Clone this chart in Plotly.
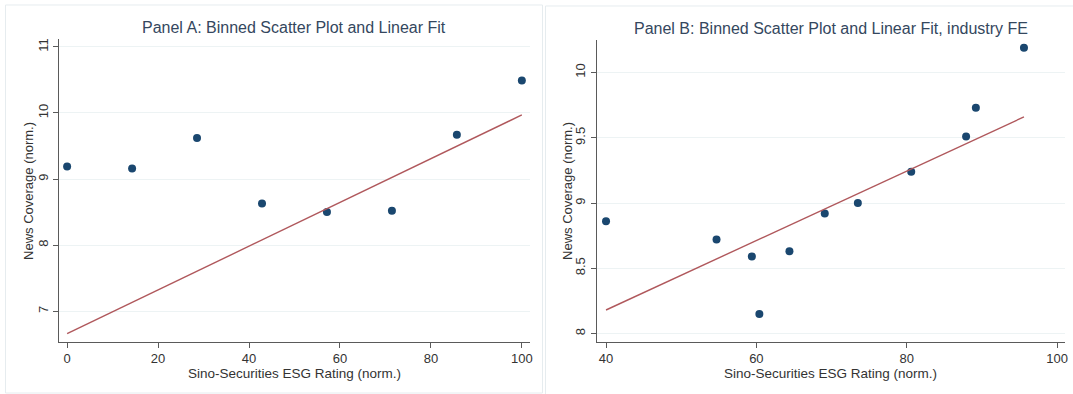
import plotly.graph_objects as go

# ---- data ----
a_x = [0, 14.29, 28.57, 42.86, 57.14, 71.43, 85.71, 100]
a_y = [9.19, 9.16, 9.62, 8.63, 8.50, 8.52, 9.67, 10.49]
a_fit_x = [0, 100]
a_fit_y = [6.66, 9.97]

b_x = [40, 54.7, 59.4, 60.4, 64.4, 69.1, 73.5, 80.6, 87.9, 89.2, 95.6]
b_y = [8.86, 8.72, 8.59, 8.15, 8.63, 8.92, 9.00, 9.24, 9.51, 9.73, 10.19]
b_fit_x = [40, 95.6]
b_fit_y = [8.18, 9.66]

a_xticks = [0, 20, 40, 60, 80, 100]
a_yticks = [7, 8, 9, 10, 11]
b_xticks = [40, 60, 80, 100]
b_yticks = [8, 8.5, 9, 9.5, 10]
b_yticklabels = ["8", "8.5", "9", "9.5", "10"]

title_a = "Panel A: Binned Scatter Plot and Linear Fit"
title_b = "Panel B: Binned Scatter Plot and Linear Fit, industry FE"
x_title = "Sino-Securities ESG Rating (norm.)"
y_title = "News Coverage (norm.)"

# ---- style ----
W, H = 1073, 394
FONT = "Liberation Sans, Arial, sans-serif"
MARKER = "#1a476f"
LINE = "#b0585c"
AXIS = "#5a5a5a"
GRID = "#edf3f4"
TXT = "#333333"
TITLE = "#34475e"

fig = go.Figure()
fig.add_trace(go.Scatter(x=a_x, y=a_y, mode="markers", xaxis="x", yaxis="y",
                         marker=dict(color=MARKER, size=8), showlegend=False))
fig.add_trace(go.Scatter(x=a_fit_x, y=a_fit_y, mode="lines", xaxis="x", yaxis="y",
                         line=dict(color=LINE, width=1.4), showlegend=False))
fig.add_trace(go.Scatter(x=b_x, y=b_y, mode="markers", xaxis="x2", yaxis="y2",
                         marker=dict(color=MARKER, size=8), showlegend=False))
fig.add_trace(go.Scatter(x=b_fit_x, y=b_fit_y, mode="lines", xaxis="x2", yaxis="y2",
                         line=dict(color=LINE, width=1.4), showlegend=False))

def px_x(p):
    return p / W

def px_y(p):
    return 1 - p / H

common_x = dict(showline=True, linecolor=AXIS, linewidth=1, ticks="outside", ticklen=5,
                tickcolor=AXIS, showgrid=False, zeroline=False,
                tickfont=dict(family=FONT, size=13, color=TXT))
common_y = dict(showline=True, linecolor=AXIS, linewidth=1, ticks="outside", ticklen=5,
                tickcolor=AXIS, showgrid=True, gridcolor=GRID, gridwidth=1, zeroline=False,
                tickangle=-90, tickfont=dict(family=FONT, size=13, color=TXT))

fig.update_layout(
    width=W, height=H, margin=dict(l=0, r=0, t=0, b=0),
    paper_bgcolor="white", plot_bgcolor="white",
    xaxis=dict(domain=[px_x(59), px_x(531.7)], range=[-1.82, 101.84],
               tickvals=a_xticks, anchor="y", **common_x),
    yaxis=dict(domain=[px_y(341.7), px_y(38.3)], range=[6.537, 11.116],
               tickvals=a_yticks, anchor="x", **common_y),
    xaxis2=dict(domain=[px_x(598.3), px_x(1068.3)], range=[38.75, 101.1],
                tickvals=b_xticks, anchor="y2", **common_x),
    yaxis2=dict(domain=[px_y(341.7), px_y(39.3)], range=[7.936, 10.248],
                tickvals=b_yticks, ticktext=b_yticklabels, anchor="x2", **common_y),
    shapes=[
        dict(type="rect", xref="paper", yref="paper", x0=px_x(5.5), x1=px_x(544),
             y0=px_y(393), y1=px_y(4), line=dict(color="#e6ecef", width=1), layer="below"),
        dict(type="rect", xref="paper", yref="paper", x0=px_x(547), x1=px_x(1080),
             y0=px_y(400), y1=px_y(5), line=dict(color="#e6ecef", width=1), layer="below"),
    ],
    annotations=[
        dict(text=title_a, xref="paper", yref="paper", x=px_x(295.3), y=px_y(27),
             xanchor="center", yanchor="middle", showarrow=False,
             font=dict(family=FONT, size=16, color=TITLE)),
        dict(text=title_b, xref="paper", yref="paper", x=px_x(833.3), y=px_y(28),
             xanchor="center", yanchor="middle", showarrow=False,
             font=dict(family=FONT, size=16, color=TITLE)),
        dict(text=x_title, xref="paper", yref="paper", x=px_x(295.3), y=px_y(373),
             xanchor="center", yanchor="middle", showarrow=False,
             font=dict(family=FONT, size=13.5, color=TXT)),
        dict(text=x_title, xref="paper", yref="paper", x=px_x(833.3), y=px_y(373),
             xanchor="center", yanchor="middle", showarrow=False,
             font=dict(family=FONT, size=13.5, color=TXT)),
        dict(text=y_title, xref="paper", yref="paper", x=px_x(28.5), y=px_y(190),
             xanchor="center", yanchor="middle", showarrow=False, textangle=-90,
             font=dict(family=FONT, size=13, color=TXT)),
        dict(text=y_title, xref="paper", yref="paper", x=px_x(569), y=px_y(190),
             xanchor="center", yanchor="middle", showarrow=False, textangle=-90,
             font=dict(family=FONT, size=13, color=TXT)),
    ],
)

fig.write_html("out.html")
